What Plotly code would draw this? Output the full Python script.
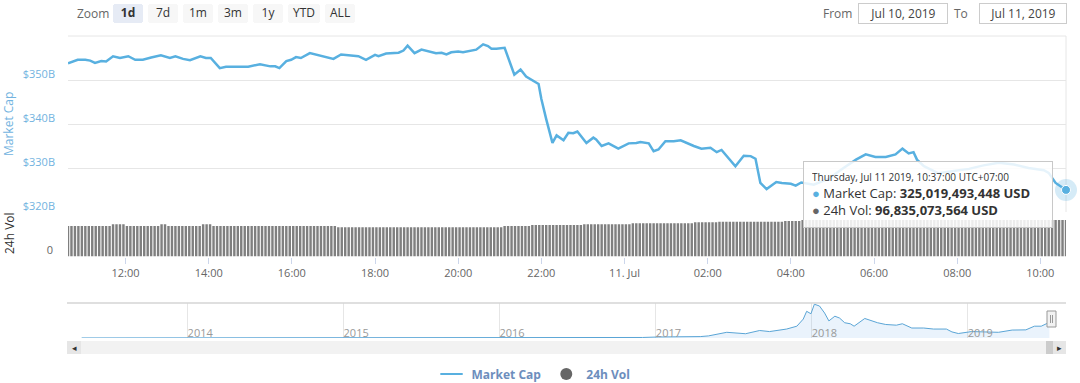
import plotly.graph_objects as go
import pandas as pd

W, H = 1080, 383


def px(x):
    return x / W


def py(y):
    return 1 - y / H


# ---------------- data ----------------
price_time = [
    "2019-07-10 10:37", "2019-07-10 10:51", "2019-07-10 11:02", "2019-07-10 11:09", "2019-07-10 11:16",
    "2019-07-10 11:25", "2019-07-10 11:32", "2019-07-10 11:42", "2019-07-10 11:52", "2019-07-10 12:04",
    "2019-07-10 12:14", "2019-07-10 12:25", "2019-07-10 12:37", "2019-07-10 12:51", "2019-07-10 13:04",
    "2019-07-10 13:12", "2019-07-10 13:23", "2019-07-10 13:33", "2019-07-10 13:48", "2019-07-10 13:56",
    "2019-07-10 14:03", "2019-07-10 14:16", "2019-07-10 14:25", "2019-07-10 14:42", "2019-07-10 14:57",
    "2019-07-10 15:14", "2019-07-10 15:29", "2019-07-10 15:36", "2019-07-10 15:42", "2019-07-10 15:52",
    "2019-07-10 15:59", "2019-07-10 16:06", "2019-07-10 16:13", "2019-07-10 16:26", "2019-07-10 16:38",
    "2019-07-10 17:00", "2019-07-10 17:11", "2019-07-10 17:36", "2019-07-10 17:47", "2019-07-10 18:00",
    "2019-07-10 18:05", "2019-07-10 18:16", "2019-07-10 18:34", "2019-07-10 18:41", "2019-07-10 18:47",
    "2019-07-10 18:57", "2019-07-10 19:07", "2019-07-10 19:20", "2019-07-10 19:28", "2019-07-10 19:36",
    "2019-07-10 19:43", "2019-07-10 19:50", "2019-07-10 20:00", "2019-07-10 20:07", "2019-07-10 20:18",
    "2019-07-10 20:26", "2019-07-10 20:36", "2019-07-10 20:43", "2019-07-10 20:48", "2019-07-10 20:55",
    "2019-07-10 21:07", "2019-07-10 21:15", "2019-07-10 21:21", "2019-07-10 21:30", "2019-07-10 21:38",
    "2019-07-10 21:56", "2019-07-10 22:00", "2019-07-10 22:07", "2019-07-10 22:16", "2019-07-10 22:22",
    "2019-07-10 22:32", "2019-07-10 22:39", "2019-07-10 22:46", "2019-07-10 22:52", "2019-07-10 23:05",
    "2019-07-10 23:15", "2019-07-10 23:19", "2019-07-10 23:27", "2019-07-10 23:37", "2019-07-10 23:51",
    "2019-07-11 00:06", "2019-07-11 00:17", "2019-07-11 00:23", "2019-07-11 00:35", "2019-07-11 00:42",
    "2019-07-11 00:49", "2019-07-11 00:59", "2019-07-11 01:11", "2019-07-11 01:21", "2019-07-11 01:40",
    "2019-07-11 01:51", "2019-07-11 02:04", "2019-07-11 02:13", "2019-07-11 02:20", "2019-07-11 02:30",
    "2019-07-11 02:40", "2019-07-11 02:52", "2019-07-11 03:02", "2019-07-11 03:09", "2019-07-11 03:16",
    "2019-07-11 03:25", "2019-07-11 03:39", "2019-07-11 03:47", "2019-07-11 04:00", "2019-07-11 04:07",
    "2019-07-11 04:15", "2019-07-11 04:33", "2019-07-11 04:54", "2019-07-11 05:16", "2019-07-11 05:34",
    "2019-07-11 05:48", "2019-07-11 06:02", "2019-07-11 06:17", "2019-07-11 06:31", "2019-07-11 06:41",
    "2019-07-11 06:50", "2019-07-11 06:57", "2019-07-11 07:02", "2019-07-11 07:12", "2019-07-11 07:33",
    "2019-07-11 07:55", "2019-07-11 08:17", "2019-07-11 08:38", "2019-07-11 09:00", "2019-07-11 09:22",
    "2019-07-11 09:43", "2019-07-11 10:05", "2019-07-11 10:12", "2019-07-11 10:22", "2019-07-11 10:37",
]
price_cap_b = [
    353.8, 354.6, 354.6, 354.4, 353.9, 354.3, 354.2, 355.4, 355.0, 355.4,
    354.6, 354.6, 355.1, 355.6, 355.0, 355.4, 354.8, 354.5, 355.4, 355.0,
    355.0, 352.7, 353.0, 353.0, 353.0, 353.6, 353.1, 353.1, 352.7, 354.3,
    354.6, 355.2, 355.0, 356.1, 355.6, 354.8, 355.8, 355.4, 354.6, 355.7,
    355.4, 356.0, 356.2, 356.7, 357.8, 356.1, 356.9, 356.5, 356.1, 356.2,
    355.8, 356.3, 356.5, 356.3, 356.7, 356.9, 358.1, 357.7, 357.1, 357.1,
    357.3, 354.0, 351.2, 352.4, 350.8, 349.1, 345.7, 341.1, 335.7, 337.4,
    336.3, 338.0, 337.9, 338.3, 335.7, 336.9, 336.5, 335.0, 335.6, 334.4,
    335.6, 335.7, 335.9, 335.6, 333.8, 334.2, 336.1, 336.1, 336.3, 335.0,
    334.4, 334.6, 333.6, 334.1, 332.3, 330.4, 332.8, 332.7, 332.1, 326.6,
    325.2, 326.8, 326.6, 326.4, 326.0, 326.7, 326.2, 327.5, 330.0, 331.9,
    333.1, 332.5, 332.5, 333.1, 334.4, 333.3, 333.6, 331.9, 330.4, 328.8,
    329.3, 329.8, 330.6, 331.2, 330.8, 330.0, 329.5, 328.9, 326.6, 325.02,
]

# 24h volume bars, 5-minute bars, read as runs of equal height (billions USD)
vol_start = "2019-07-10 10:37"
vol_level_b = [80.9, 85.4, 80.9, 85.4, 80.9, 85.4, 80.9, 77.5, 80.9, 83.6, 85.4, 88.1, 90.7, 92.3, 94.2, 96.8]
vol_count = [13, 4, 10, 2, 10, 3, 36, 48, 8, 15, 14, 18, 7, 19, 5, 77]

# navigator: full-history market cap (billions USD)
nav_date = [
    "2013-04-28", "2013-11-01", "2013-12-04", "2014-01-10", "2014-06-01", "2014-12-01",
    "2015-06-01", "2015-12-01", "2016-06-15", "2016-12-01", "2017-01-07", "2017-03-01",
    "2017-04-15", "2017-05-04", "2017-06-16", "2017-07-30", "2017-09-01", "2017-09-24",
    "2017-11-03", "2017-11-27", "2017-12-12", "2017-12-20", "2017-12-30", "2018-01-07",
    "2018-01-19", "2018-01-31", "2018-02-10", "2018-02-24", "2018-03-07", "2018-03-19",
    "2018-04-01", "2018-04-10", "2018-05-05", "2018-06-04", "2018-06-23", "2018-07-18",
    "2018-08-01", "2018-08-23", "2018-09-20", "2018-10-13", "2018-11-12", "2018-11-25",
    "2018-12-10", "2019-01-10", "2019-03-14", "2019-04-15", "2019-05-17", "2019-06-06",
    "2019-06-22", "2019-07-08", "2019-07-11",
]
nav_cap_b = [
    1.5, 2.5, 14, 11, 8, 5,
    3.5, 6, 12, 13, 25, 27,
    35, 51, 140, 105, 184, 158,
    220, 290, 465, 656, 595, 830,
    786, 613, 420, 536, 490, 375,
    350, 290, 480, 375, 332, 315,
    350, 245, 245, 220, 220, 150,
    110, 158, 140, 195, 200, 290,
    290, 370, 325,
]

x_tick_vals = [
    "2019-07-10 12:00", "2019-07-10 14:00", "2019-07-10 16:00", "2019-07-10 18:00",
    "2019-07-10 20:00", "2019-07-10 22:00", "2019-07-11 00:00", "2019-07-11 02:00",
    "2019-07-11 04:00", "2019-07-11 06:00", "2019-07-11 08:00", "2019-07-11 10:00",
]
x_tick_text = ["12:00", "14:00", "16:00", "18:00", "20:00", "22:00", "11. Jul",
               "02:00", "04:00", "06:00", "08:00", "10:00"]
price_tick_vals = [320, 330, 340, 350, 360]
price_tick_text = ["$320B", "$330B", "$340B", "$350B", ""]
nav_year_vals = ["2014-01-01", "2015-01-01", "2016-01-01", "2017-01-01", "2018-01-01", "2019-01-01"]
nav_year_text = ["2014", "2015", "2016", "2017", "2018", "2019"]

view_range = ["2019-07-10 10:37", "2019-07-11 10:37"]
nav_range = ["2013-03-27", "2019-08-19"]

tooltip_time = "Thursday, Jul 11 2019, 10:37:00 UTC+07:00"
tooltip_cap = "325,019,493,448 USD"
tooltip_vol = "96,835,073,564 USD"
from_date = "Jul 10, 2019"
to_date = "Jul 11, 2019"

# ---------------- styling ----------------
BLUE = "#58b0e0"
AXBLUE = "#72b3e0"
GRAY_BAR = "#7f7f7f"
GRID = "#e6e6e6"
LEG = "#6d8ebd"

vol_b = [lvl for lvl, n in zip(vol_level_b, vol_count) for _ in range(n)]
vol_time = pd.date_range(vol_start, periods=len(vol_b), freq="5min")

fig = go.Figure()

fig.add_trace(go.Bar(
    x=vol_time, y=vol_b, xaxis="x", yaxis="y2", marker=dict(color=GRAY_BAR, line=dict(width=0)),
    showlegend=False, hoverinfo="skip", name="24h Vol",
))
fig.add_trace(go.Scatter(
    x=price_time, y=price_cap_b, xaxis="x", yaxis="y", mode="lines",
    line=dict(color=BLUE, width=2.5), showlegend=False, name="Market Cap",
))
fig.add_trace(go.Scatter(
    x=nav_date, y=nav_cap_b, xaxis="x2", yaxis="y3", mode="lines",
    line=dict(color="#5aa5d6", width=1), fill="tozeroy", fillcolor="rgba(124,181,236,0.16)",
    showlegend=False, hoverinfo="skip",
))
# hovered point with halo
fig.add_trace(go.Scatter(
    x=[price_time[-1]], y=[price_cap_b[-1]], xaxis="x", yaxis="y", mode="markers",
    marker=dict(size=22, color="rgba(88,176,224,0.25)"), cliponaxis=False,
    showlegend=False, hoverinfo="skip",
))
fig.add_trace(go.Scatter(
    x=[price_time[-1]], y=[price_cap_b[-1]], xaxis="x", yaxis="y", mode="markers",
    marker=dict(size=9, color=BLUE, line=dict(color="white", width=1)), cliponaxis=False,
    showlegend=False, hoverinfo="skip",
))
# legend entries
fig.add_trace(go.Scatter(
    x=[None], y=[None], mode="markers", name="Market Cap",
    marker=dict(symbol="line-ew", size=16, line=dict(color=BLUE, width=2)),
))
fig.add_trace(go.Scatter(
    x=[None], y=[None], mode="markers", name="24h Vol",
    marker=dict(symbol="circle", size=12, color="#666666"),
))

shapes = [
    dict(type="line", xref="paper", yref="paper", x0=px(1066), x1=px(1066), y0=py(212), y1=py(36),
         line=dict(color=GRID, width=1), layer="below"),
    dict(type="line", xref="paper", yref="paper", x0=px(68), x1=px(1066), y0=py(36), y1=py(36),
         line=dict(color=GRID, width=1), layer="below"),
    dict(type="line", xref="paper", yref="paper", x0=px(67), x1=px(1066), y0=py(303), y1=py(303),
         line=dict(color="#d4d4d4", width=1.5)),
    dict(type="rect", xref="paper", yref="paper", x0=px(67), x1=px(1066), y0=py(354), y1=py(341),
         fillcolor="#f2f2f2", line=dict(width=0)),
    dict(type="rect", xref="paper", yref="paper", x0=px(67), x1=px(81), y0=py(354), y1=py(341),
         fillcolor="#e6e6e6", line=dict(width=0)),
    dict(type="rect", xref="paper", yref="paper", x0=px(1046), x1=px(1053), y0=py(354), y1=py(341),
         fillcolor="#cccccc", line=dict(width=0)),
    dict(type="rect", xref="paper", yref="paper", x0=px(1053), x1=px(1066), y0=py(354), y1=py(341),
         fillcolor="#e6e6e6", line=dict(width=0)),
    dict(type="rect", xref="paper", yref="paper", x0=px(1047), x1=px(1056), y0=py(327), y1=py(311),
         fillcolor="#f2f2f2", line=dict(color="#999999", width=1)),
    dict(type="line", xref="paper", yref="paper", x0=px(1050.5), x1=px(1050.5), y0=py(323), y1=py(315),
         line=dict(color="#999999", width=1)),
    dict(type="line", xref="paper", yref="paper", x0=px(1052.5), x1=px(1052.5), y0=py(323), y1=py(315),
         line=dict(color="#999999", width=1)),
]

tooltip_text = (
    f"<span style='font-size:10px'>{tooltip_time}</span><br>"
    f"<span style='color:{BLUE}'>●</span> Market Cap: <b>{tooltip_cap}</b><br>"
    f"<span style='color:#666666'>●</span> 24h Vol: <b>{tooltip_vol}</b>"
)


def label(text, x, y, size=12, color="#666666", **kw):
    d = dict(text=text, x=px(x), y=py(y), xref="paper", yref="paper", showarrow=False,
             xanchor="center", yanchor="middle", font=dict(size=size, color=color))
    d.update(kw)
    return d


annotations = [
    label("Zoom", 93, 14),
    label("From", 837, 14),
    label(from_date, 903, 14, color="#444444", bordercolor="#cccccc", borderwidth=1, borderpad=2,
          width=84, height=15),
    label("To", 961, 14),
    label(to_date, 1023, 14, color="#444444", bordercolor="#cccccc", borderwidth=1, borderpad=2,
          width=82, height=15),
    label("Market Cap", 8, 124, color=AXBLUE, textangle=-90),
    label("24h Vol", 9, 233, color="#333333", textangle=-90),
    label("◂", 74, 347.5, size=9, color="#333333"),
    label("▸", 1059.5, 347.5, size=9, color="#333333"),
    dict(text=tooltip_text, x=px(803), y=py(161), xref="paper", yref="paper", showarrow=False,
         xanchor="left", yanchor="top", align="left", bgcolor="rgba(255,255,255,0.85)",
         bordercolor="#c8c8c8", borderwidth=1, borderpad=8, width=232,
         font=dict(size=13, color="#333333")),
]

fig.update_layout(
    width=W, height=H,
    margin=dict(l=0, r=0, t=0, b=0, autoexpand=False),
    paper_bgcolor="white", plot_bgcolor="white",
    font=dict(family="Open Sans", color="#333333"),
    bargap=0.3,
    xaxis=dict(
        domain=[px(68), px(1066)], anchor="y2", type="date", range=view_range,
        tickvals=x_tick_vals, ticktext=x_tick_text,
        ticks="outside", ticklen=6, tickcolor="#ccd6eb",
        tickfont=dict(size=11, color="#666666"),
        showgrid=False, zeroline=False, showline=False, automargin=False,
        rangeselector=dict(
            buttons=[
                dict(count=1, label="<b>1d</b>", step="day", stepmode="backward"),
                dict(count=7, label="7d", step="day", stepmode="backward"),
                dict(count=1, label="1m", step="month", stepmode="backward"),
                dict(count=3, label="3m", step="month", stepmode="backward"),
                dict(count=1, label="1y", step="year", stepmode="backward"),
                dict(count=1, label="YTD", step="year", stepmode="todate"),
                dict(label="ALL", step="all"),
            ],
            x=px(113), y=py(4), xanchor="left", yanchor="top",
            bgcolor="#f7f7f7", activecolor="#e6ebf5", borderwidth=0,
            font=dict(size=12, color="#333333"),
        ),
    ),
    yaxis=dict(
        domain=[py(212), py(36)], anchor="x", range=[320, 360],
        tickvals=price_tick_vals, ticktext=price_tick_text,
        tickfont=dict(size=11, color=AXBLUE), gridcolor=GRID, gridwidth=1,
        zeroline=False, showline=False, ticklabelshift=-6, ticklabelstandoff=12, automargin=False,
    ),
    yaxis2=dict(
        domain=[py(256.5), py(212)], anchor="x", range=[0, 118],
        tickvals=[0], ticktext=["0"], tickfont=dict(size=11, color="#666666"),
        showgrid=False, zeroline=False, showline=False, ticklabelshift=-6, ticklabelstandoff=14,
        automargin=False,
    ),
    xaxis2=dict(
        domain=[px(68), px(1066)], anchor="y3", type="date", range=nav_range,
        tickvals=nav_year_vals, ticktext=nav_year_text, ticklabelposition="inside right",
        ticklabelstandoff=-7,
        tickfont=dict(size=11, color="#999999"), showgrid=True, gridcolor=GRID,
        zeroline=False, showline=False, ticks="", automargin=False,
    ),
    yaxis3=dict(domain=[py(338), py(303)], anchor="x2", range=[0, 860], visible=False),
    legend=dict(
        orientation="h", x=0.494, xanchor="center", y=py(374), yanchor="middle",
        font=dict(size=12, color=LEG, weight="bold"), itemwidth=30, bgcolor="rgba(0,0,0,0)",
    ),
    shapes=shapes,
    annotations=annotations,
)

fig.write_html(
    "out.html",
    config={"displayModeBar": False},
    post_script="document.body.style.margin='0px';document.body.style.overflow='hidden';",
)
